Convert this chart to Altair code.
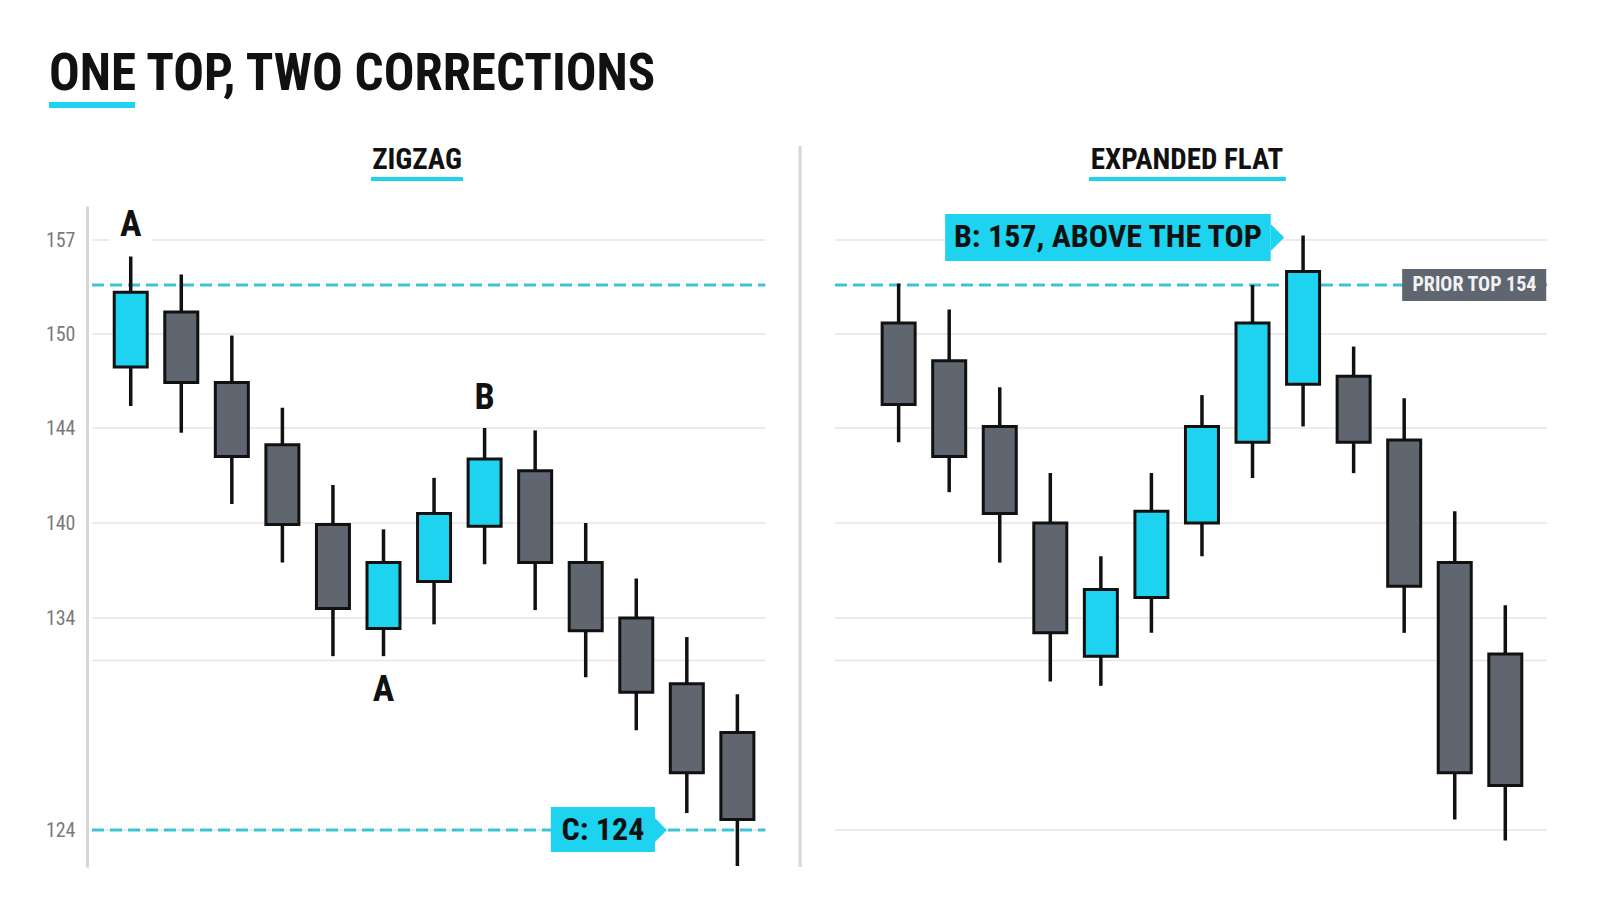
import pandas as pd
import altair as alt

# zigzag candles (left panel)
zz_open = [147.9, 151.8, 146.9, 143.3, 139.9, 133.5, 136.3, 139.8, 142.2, 137.5, 134.0, 130.9, 128.6]
zz_high = [155.9, 154.7, 149.9, 145.3, 141.6, 139.6, 141.9, 144.0, 143.9, 140.0, 136.5, 133.1, 130.4]
zz_low = [145.4, 143.8, 140.8, 137.5, 132.2, 132.2, 133.7, 137.4, 134.5, 131.2, 128.7, 124.8, 122.3]
zz_close = [153.4, 146.9, 142.8, 139.9, 134.6, 137.5, 140.4, 142.7, 137.5, 133.4, 130.5, 126.7, 124.5]

# expanded flat candles (right panel)
ef_open = [150.9, 148.3, 144.1, 140.0, 132.2, 135.3, 140.0, 143.4, 146.8, 147.3, 143.5, 137.5, 132.3]
ef_high = [154.1, 152.0, 146.6, 142.1, 137.9, 142.1, 146.1, 154.0, 157.3, 149.2, 145.9, 140.5, 134.8]
ef_low = [143.4, 141.3, 137.5, 131.0, 130.8, 133.3, 137.9, 141.9, 144.1, 142.1, 133.3, 124.5, 123.5]
ef_close = [145.5, 142.8, 140.4, 133.3, 135.8, 140.5, 144.1, 150.9, 154.9, 143.4, 136.0, 126.7, 126.1]

tick_values = [157, 150, 144, 140, 134, 132, 124]
prior_top = 154
c_level = 124

# wave labels: slot, price, letter
wave_slots = [0, 5, 7]
wave_prices = [158.0, 130.6, 145.9]
wave_text = ["A", "A", "B"]

# layout (slot units on x, price on y)
RIGHT_START = 15.19
X_DOMAIN = [-0.766, 28.015]
LEFT_SPAN = (-0.766, 12.554)
RIGHT_SPAN = (13.93, 28.015)
SEPARATOR = 13.24
W, H = 1465, 661

# the price axis is drawn unevenly, so the scale is piecewise
y_breaks = [122.25, 124, 134, 140, 144, 150, 154, 157, 159.27]
y_pixels = [661, 624, 412, 317, 222, 128, 79, 34, 0]

CYAN = "#1ed3ef"
GRAY = "#5f6670"
DASH = "#3cc3d4"
GRID = "#e6e6e6"
AXIS = "#d6d6d6"
INK = "#111111"
FONT = "Liberation Sans Narrow, Roboto Condensed, DejaVu Sans Condensed, Roboto, sans-serif"

x_scale = alt.Scale(domain=X_DOMAIN, nice=False, zero=False)
y_scale = alt.Scale(domain=y_breaks, range=y_pixels, nice=False, zero=False)
y_axis = alt.Axis(
    values=tick_values, labelExpr="datum.value == 132 ? '' : datum.label",
    grid=False, ticks=False, domainColor=AXIS, domainWidth=3,
    labelFont=FONT, labelFontSize=20, labelColor="#7a7a7a", labelPadding=12, title=None,
)


def X(field):
    return alt.X(field, type="quantitative", scale=x_scale, axis=None)


def Y(field):
    return alt.Y(field, type="quantitative", scale=y_scale, axis=y_axis)


def candles(o, h, l, c, start):
    df = pd.DataFrame({"open": o, "high": h, "low": l, "close": c})
    df["slot"] = [start + i for i in range(len(o))]
    df["dir"] = ["up" if cl >= op else "down" for op, cl in zip(o, c)]
    return df


bars = pd.concat([
    candles(zz_open, zz_high, zz_low, zz_close, 0),
    candles(ef_open, ef_high, ef_low, ef_close, RIGHT_START),
])

grid_df = pd.DataFrame(
    [{"level": v, "x0": s[0], "x1": s[1]} for v in tick_values for s in (LEFT_SPAN, RIGHT_SPAN)]
)
dash_df = pd.DataFrame({
    "level": [prior_top, c_level, prior_top],
    "x0": [LEFT_SPAN[0], LEFT_SPAN[0], RIGHT_SPAN[0]],
    "x1": [LEFT_SPAN[1], LEFT_SPAN[1], RIGHT_SPAN[1]],
})
one = pd.DataFrame({"pos": [SEPARATOR]})

grid = alt.Chart(grid_df).mark_rule(color=GRID, strokeWidth=1.5).encode(
    x=X("x0"), x2="x1", y=Y("level")
)
separator = alt.Chart(one).mark_rule(color=AXIS, strokeWidth=3).encode(
    x=X("pos"), y=alt.value(-60), y2=alt.value(H)
)
dashes = alt.Chart(dash_df).mark_rule(color=DASH, strokeWidth=3, strokeDash=[12, 6]).encode(
    x=X("x0"), x2="x1", y=Y("level")
)

# white patch so the top "A" sits in a gap of the 157 gridline
knockout = alt.Chart(pd.DataFrame({"x0": [-0.42], "x1": [0.4], "y0": [157.3], "y1": [156.7]})).mark_rect(
    color="white"
).encode(x=X("x0"), x2="x1", y=Y("y0"), y2="y1")

wicks = alt.Chart(bars).mark_rule(color=INK, strokeWidth=3.5).encode(
    x=X("slot"), y=Y("low"), y2="high"
)
bodies = alt.Chart(bars).mark_bar(size=33, stroke=INK, strokeWidth=3).encode(
    x=X("slot"), y=Y("open"), y2="close",
    color=alt.Color("dir:N", scale=alt.Scale(domain=["up", "down"], range=[CYAN, GRAY]), legend=None),
)

waves = alt.Chart(pd.DataFrame({"slot": wave_slots, "price": wave_prices, "t": wave_text})).mark_text(
    font=FONT, fontSize=36, fontWeight="bold", color=INK, baseline="middle"
).encode(x=X("slot"), y=Y("price"), text="t:N")

# callout boxes
boxes_df = pd.DataFrame({
    "x0": [8.31, 16.11, 25.15], "x1": [10.37, 22.55, 28.0],
    "y0": [125.08, 158.73, 155.07], "y1": [122.96, 155.6, 152.69],
    "fill": [CYAN, CYAN, GRAY],
})
boxes = alt.Chart(boxes_df).mark_rect().encode(
    x=X("x0"), x2="x1", y=Y("y0"), y2="y1", color=alt.Color("fill:N", scale=None)
)
arrows = alt.Chart(pd.DataFrame({"x": [10.37, 22.55], "y": [124, 157.17], "s": [576, 729]})).mark_point(
    shape="M0,-1L1,0L0,1Z", filled=True, fill=CYAN, strokeWidth=0, opacity=1
).encode(x=X("x"), y=Y("y"), size=alt.Size("s:Q", scale=None))
callout_text = alt.Chart(pd.DataFrame({
    "x": [9.34, 19.33], "y": [124, 157.17], "t": ["C: 124", "B: 157, ABOVE THE TOP"],
})).mark_text(font=FONT, fontSize=32, fontWeight="bold", color=INK, baseline="middle").encode(
    x=X("x"), y=Y("y"), text="t:N"
)
prior_text = alt.Chart(pd.DataFrame({"x": [26.58], "y": [prior_top]})).mark_text(
    text="PRIOR TOP 154", font=FONT, fontSize=20, fontWeight="bold", color="#f2f2f2", baseline="middle"
).encode(x=X("x"), y=Y("y"))

# titles and underlines (pixel offsets from the plot's top-left)
title = alt.Chart(one).mark_text(
    text="ONE TOP, TWO CORRECTIONS", font=FONT, fontSize=51, fontWeight="bold", color=INK,
    align="left", baseline="alphabetic"
).encode(x=alt.value(-38), y=alt.value(-116))
panel_titles = alt.Chart(pd.DataFrame({"px": [330, 1100], "t": ["ZIGZAG", "EXPANDED FLAT"]})).mark_text(
    font=FONT, fontSize=29, fontWeight="bold", color=INK, align="center", baseline="alphabetic"
).encode(x=alt.X("px:Q", scale=None), y=alt.value(-37), text="t:N")
underlines = alt.Chart(pd.DataFrame({
    "a": [-38, 284, 1002], "b": [48, 376, 1199], "yy": [-101, -27, -27], "w": [6, 4, 4],
})).mark_rule(color=CYAN, strokeCap="butt").encode(
    x=alt.X("a:Q", scale=None), x2="b:Q", y=alt.Y("yy:Q", scale=None),
    strokeWidth=alt.StrokeWidth("w:Q", scale=None),
)

chart = alt.layer(
    grid, separator, dashes, knockout, wicks, bodies, waves, boxes, arrows, callout_text, prior_text,
    title, panel_titles, underlines,
).properties(
    width=W, height=H, background="white",
    autosize=alt.AutoSizeParams(type="none"),
    padding={"left": 79, "top": 198, "right": 40, "bottom": 40},
).configure_view(stroke=None)

chart.save("out.html", embed_options={"renderer": "svg", "actions": False})
